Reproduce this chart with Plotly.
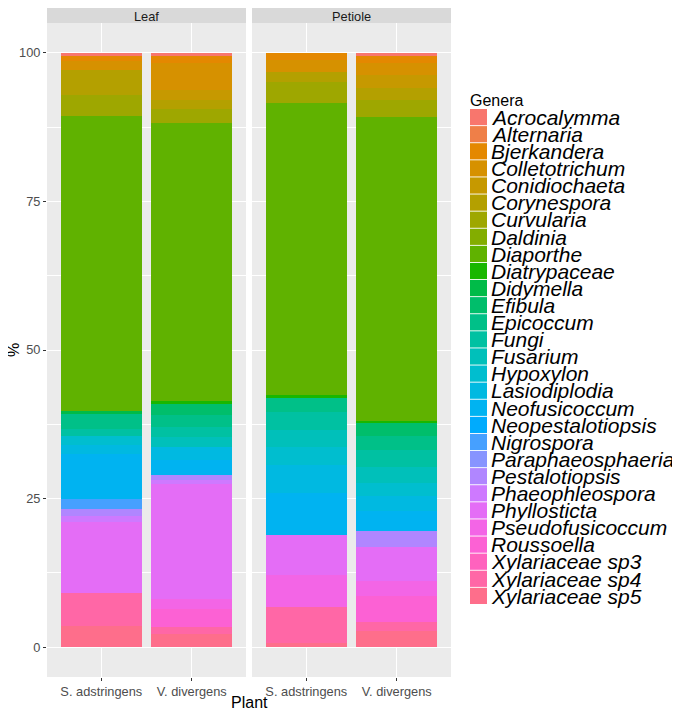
import math
import plotly.graph_objects as go

genera = ["Acrocalymma", "Alternaria", "Bjerkandera", "Colletotrichum", "Conidiochaeta",
          "Corynespora", "Curvularia", "Daldinia", "Diaporthe", "Diatrypaceae", "Didymella",
          "Efibula", "Epicoccum", "Fungi", "Fusarium", "Hypoxylon", "Lasiodiplodia",
          "Neofusicoccum", "Neopestalotiopsis", "Nigrospora", "Paraphaeosphaeria",
          "Pestalotiopsis", "Phaeophleospora", "Phyllosticta", "Pseudofusicoccum",
          "Roussoella", "Xylariaceae sp3", "Xylariaceae sp4", "Xylariaceae sp5"]

plants = ["S. adstringens", "V. divergens"]
facets = ["Leaf", "Petiole"]

leaf_s_adstringens = [0.5, 0, 0.8, 1.5, 0, 4.2, 3.5, 0, 49.7, 0, 0.5, 0, 2.5, 1.2, 0, 1.5, 1.5,
                      7.6, 0, 1.7, 0, 1.2, 1.0, 11.8, 0, 0, 0, 5.7, 3.5]
leaf_v_divergens = [0.5, 0, 1.2, 4.5, 1.7, 1.5, 2.4, 0, 46.7, 0.5, 0, 1.8, 2.0, 1.7, 1.7, 0, 2.2,
                    2.5, 0, 0, 0, 0.8, 0.8, 19.3, 1.7, 3.0, 0, 1.2, 2.2]
petiole_s_adstringens = [0, 0, 1.2, 2.0, 0, 1.8, 3.4, 0, 49.2, 0.5, 0, 0, 2.4, 2.9, 2.9, 3.0, 4.7,
                         7.1, 0, 0, 0, 0, 0, 6.7, 5.5, 0, 0, 5.9, 0.8]
petiole_v_divergens = [0.5, 0, 1.2, 2.0, 2.2, 2.0, 2.9, 0, 51.1, 0.4, 0, 2.2, 2.3, 2.8, 2.7, 2.3, 2.5,
                       3.4, 0, 0, 0, 2.7, 0, 5.7, 2.5, 4.4, 0, 1.5, 2.7]

data = {
    "Leaf": [leaf_s_adstringens, leaf_v_divergens],
    "Petiole": [petiole_s_adstringens, petiole_v_divergens],
}

y_ticks = [0, 25, 50, 75, 100]


def hcl_to_hex(h, c=100.0, l=65.0):
    Xn, Yn, Zn = 95.047, 100.0, 108.883
    U = c * math.cos(math.radians(h))
    V = c * math.sin(math.radians(h))
    Y = Yn * ((l + 16) / 116) ** 3 if l > 8 else Yn * l / 903.3
    denom = Xn + 15 * Yn + 3 * Zn
    un, vn = 4 * Xn / denom, 9 * Yn / denom
    u = U / (13 * l) + un
    v = V / (13 * l) + vn
    X = 9.0 * Y * u / (4 * v)
    Z = -X / 3 - 5 * Y + 3 * Y / v
    X, Y, Z = X / 100, Y / 100, Z / 100
    rgb = [3.240479 * X - 1.537150 * Y - 0.498535 * Z,
           -0.969256 * X + 1.875992 * Y + 0.041556 * Z,
           0.055648 * X - 0.204043 * Y + 1.057311 * Z]
    out = []
    for ch in rgb:
        ch = 1.055 * ch ** (1 / 2.4) - 0.055 if ch > 0.0031308 else 12.92 * ch
        out.append(int(round(max(0, min(1, ch)) * 255)))
    return "#%02X%02X%02X" % tuple(out)


n = len(genera)
colors = [hcl_to_hex(15 + i * 360.0 / n) for i in range(n)]

fig = go.Figure()
for fi, facet in enumerate(facets):
    xa = "x" if fi == 0 else "x2"
    # reverse so first level sits on top like ggplot
    for gi in reversed(range(n)):
        fig.add_trace(go.Bar(
            x=plants,
            y=[data[facet][pi][gi] for pi in range(len(plants))],
            name=genera[gi],
            marker=dict(color=colors[gi], line=dict(width=0)),
            xaxis=xa, yaxis="y",
            showlegend=False,
        ))

FONT = "Liberation Sans, Arial, Helvetica, sans-serif"
OFF = 8  # page body margin
W, H = 680 - OFF, 714 - OFF
L, R, T, B = 47 - OFF, 451 - OFF, 23 - OFF, 677 - OFF
pw, ph = R - L, B - T

xcommon = dict(
    type="category", range=[-0.6, 1.6], showgrid=True, gridcolor="white", gridwidth=1.1,
    ticks="outside", ticklen=3, tickwidth=1, tickcolor="#333333",
    tickfont=dict(family=FONT, size=12.8, color="#4D4D4D"),
    zeroline=False, showline=False, fixedrange=True,
)
fig.update_layout(
    width=W, height=H,
    margin=dict(l=L, r=W - R, t=T, b=H - B, pad=0),
    paper_bgcolor="white", plot_bgcolor="#EBEBEB",
    barmode="stack", bargap=0.1,
    showlegend=False,
    font=dict(family=FONT),
    xaxis=dict(domain=[0, 199 / pw], anchor="y", **xcommon),
    xaxis2=dict(domain=[205 / pw, 1], anchor="y", **xcommon),
    yaxis=dict(
        range=[-5, 105], tickmode="array", tickvals=y_ticks, ticktext=[str(v) for v in y_ticks],
        showgrid=True, gridcolor="white", gridwidth=1.1,
        minor=dict(tickvals=[12.5, 37.5, 62.5, 87.5], gridcolor="white", gridwidth=0.5, showgrid=True),
        ticks="outside", ticklen=3, tickwidth=1, tickcolor="#333333",
        tickfont=dict(family=FONT, size=12.8, color="#4D4D4D"),
        zeroline=False, showline=False, fixedrange=True,
    ),
)


def px(xp):
    return (xp - OFF - L) / pw


def py(yp):
    return (B - (yp - OFF)) / ph


shapes = []
annotations = []
# facet strips (page pixels 8..23)
for fi, facet in enumerate(facets):
    x0, x1 = (0, 199 / pw) if fi == 0 else (205 / pw, 1)
    shapes.append(dict(type="rect", xref="paper", yref="paper", x0=x0, x1=x1,
                       y0=1, y1=py(8), fillcolor="#D9D9D9", line=dict(width=0), layer="below"))
    annotations.append(dict(text=facet, xref="paper", yref="paper", x=(x0 + x1) / 2,
                            y=py(16), showarrow=False, xanchor="center", yanchor="middle",
                            font=dict(family=FONT, size=12.8, color="#1A1A1A")))

# axis titles
annotations.append(dict(text="Plant", xref="paper", yref="paper", x=0.5, y=py(702),
                        showarrow=False, xanchor="center", yanchor="middle",
                        font=dict(family=FONT, size=16, color="black")))
annotations.append(dict(text="%", xref="paper", yref="paper", x=px(13), y=0.5,
                        showarrow=False, xanchor="center", yanchor="middle", textangle=-90,
                        font=dict(family=FONT, size=16, color="black")))

# legend (drawn in page pixel space)
annotations.append(dict(text="Genera", xref="paper", yref="paper", x=px(468), y=py(100),
                        showarrow=False, xanchor="left", yanchor="middle",
                        font=dict(family=FONT, size=16, color="black")))
key_top, pitch = 109, 17.1
for gi, g in enumerate(genera):
    y0 = key_top + gi * pitch
    shapes.append(dict(type="rect", xref="paper", yref="paper", x0=px(470), x1=px(487),
                       y0=py(y0 + 16.2), y1=py(y0), fillcolor=colors[gi], line=dict(width=0)))
    annotations.append(dict(text="<i>%s</i>" % g, xref="paper", yref="paper", x=px(489), y=py(y0 + 8.3),
                            showarrow=False, xanchor="left", yanchor="middle",
                            font=dict(family=FONT, size=21, color="black")))

fig.update_layout(shapes=shapes, annotations=annotations)
fig.write_html("out.html")
